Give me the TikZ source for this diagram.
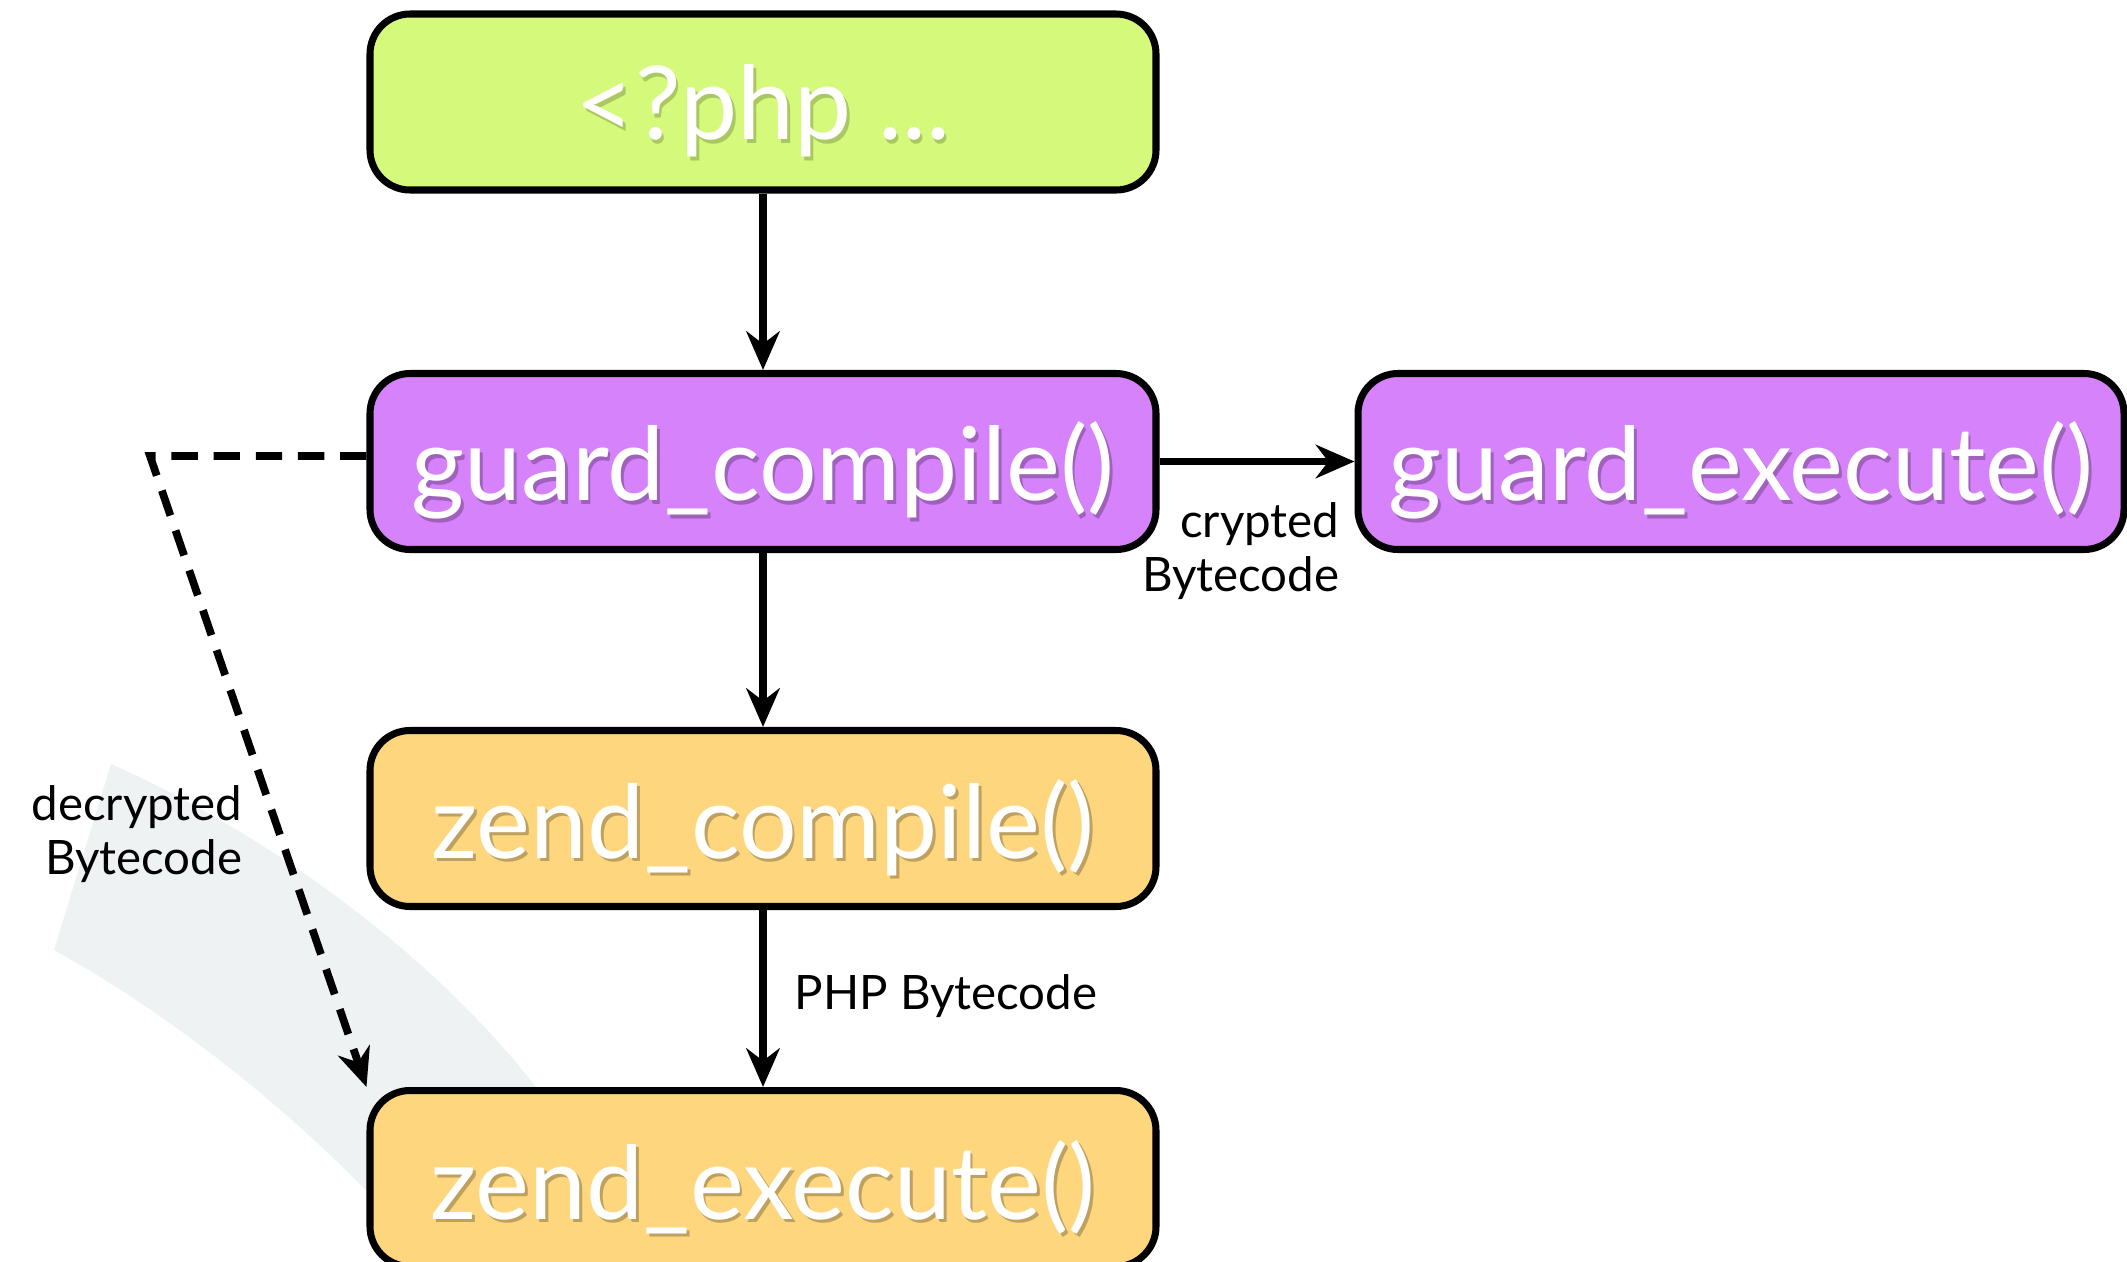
\documentclass[tikz,border=0pt]{standalone}
\usepackage{fontspec}
\setmainfont{Lato}
\usetikzlibrary{arrows.meta}

\definecolor{phpgreen}{HTML}{D5FA7B}
\definecolor{guardpurple}{HTML}{D582FB}
\definecolor{zendorange}{HTML}{FDD67E}
\definecolor{swoosh}{HTML}{EEF2F3}

% white box text with a soft drop shadow
\newcommand{\boxtxt}[2]{\raisebox{-3pt}[\height][\depth]{\makebox[0pt][l]{\hspace{0.8pt}\raisebox{-1pt}{\textcolor{#1}{#2}}}#2}}

\begin{document}
\begin{tikzpicture}[
  stepbox/.style={draw=black, line width=2pt, rounded corners=0.4cm, minimum width=7.86cm, minimum height=1.76cm, text=white, font=\fontsize{29}{31}\selectfont, inner sep=0pt},
  phpbox/.style={stepbox, fill=phpgreen},
  guardbox/.style={stepbox, fill=guardpurple},
  zendbox/.style={stepbox, fill=zendorange},
  flow/.style={line width=2pt, -{Stealth[length=11pt, width=9.5pt]}},
  dashflow/.style={flow, line width=2.2pt, dash pattern=on 7.5pt off 4.5pt},
  lbl/.style={font=\fontsize{13.5}{15.4}\selectfont, align=right, inner sep=0pt}
]
  \useasboundingbox (0,0) rectangle (21.27,-12.61);
  \clip (0,0) rectangle (21.27,-12.61);

  % background swoosh
  \fill[swoosh] (1.11,-7.64) .. controls (2.6,-8.3) and (4.5,-9.6) .. (5.6,-11.2)
    -- (5.6,-12.61) -- (4.3,-12.61)
    .. controls (3.2,-11.3) and (1.8,-10.2) .. (0.54,-9.50) -- cycle;

  % --- boxes ---
  \node[phpbox] (php) at (7.63,-1.02) {\boxtxt{phpgreen!80!black}{<?php ...}};
  \node[guardbox] (gcomp) at (7.63,-4.615) {\boxtxt{guardpurple!75!black}{guard\_compile()}};
  \node[guardbox, minimum width=7.66cm] (gexec) at (17.41,-4.615) {\boxtxt{guardpurple!75!black}{guard\_execute()}};
  \node[zendbox] (zcomp) at (7.63,-8.185) {\boxtxt{zendorange!75!black}{zend\_compile()}};
  \node[zendbox] (zexec) at (7.63,-11.785) {\boxtxt{zendorange!75!black}{zend\_execute()}};

  % --- connectors ---
  \draw[flow] (php) -- (gcomp);
  \draw[flow] (gcomp) -- (gexec);
  \draw[flow] (gcomp) -- (zcomp);
  \draw[flow] (zcomp) -- (zexec);

  \coordinate (bend) at (1.50,-4.56);
  \draw[dashflow] (gcomp.west |- bend) -- (bend) -- (zexec.north west);

  % --- labels ---
  \node[lbl, anchor=east] (crypt) at (13.40,-5.51) {crypted\\Bytecode};
  \node[lbl, anchor=east] (decrypt) at (2.43,-8.345) {decrypted\\Bytecode};
  \node[lbl, anchor=west] (phpbc) at (7.94,-9.96) {PHP Bytecode};
\end{tikzpicture}
\end{document}
